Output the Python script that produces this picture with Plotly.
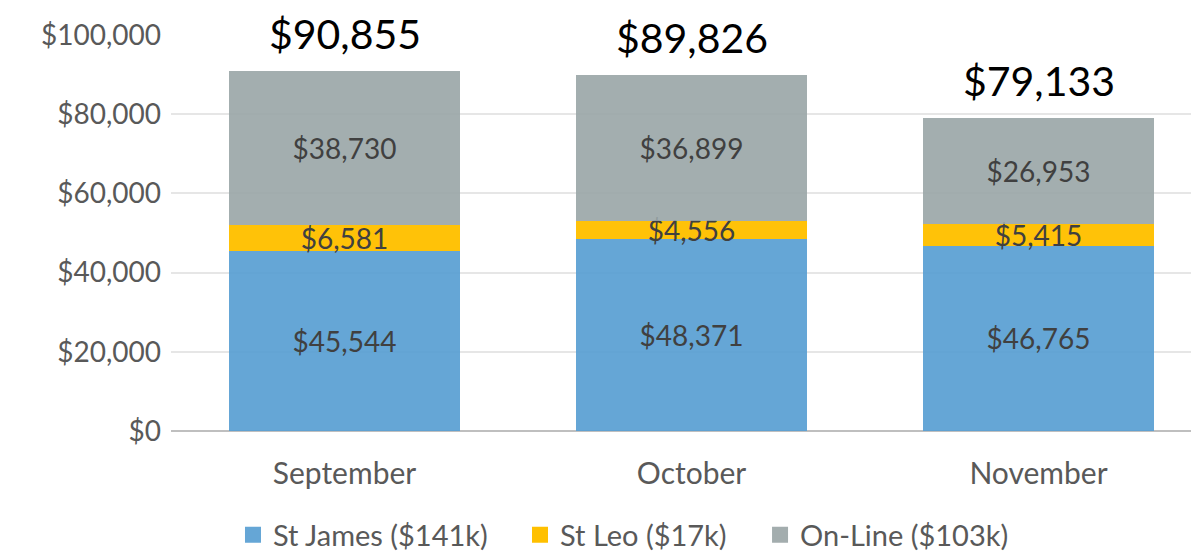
import plotly.graph_objects as go

months = ["September", "October", "November"]
st_james = [45544, 48371, 46765]
st_leo = [6581, 4556, 5415]
online = [38730, 36899, 26953]
totals = [90855, 89826, 79133]
series_names = ["St James ($141k)", "St Leo ($17k)", "On-Line ($103k)"]
tick_vals = [0, 20000, 40000, 60000, 80000, 100000]
tick_text = ["$0", "$20,000", "$40,000", "$60,000", "$80,000", "$100,000"]

colors = ["rgba(88,158,211,0.92)", "rgba(255,192,0,0.97)", "rgba(153,165,166,0.9)"]
legend_colors = ["#65A6D6", "#FFC000", "#A3ADAE"]
legend_ids = ["legend", "legend2", "legend3"]
legend_x = [0.0603, 0.3395, 0.573]
FONT = "Lato"

fig = go.Figure()
for name, vals, col in zip(series_names, [st_james, st_leo, online], colors):
    fig.add_trace(go.Bar(
        x=months, y=vals, name=name, showlegend=False,
        marker=dict(color=col, line=dict(width=0)),
        text=[f"${v:,}" for v in vals],
        textposition="inside", insidetextanchor="middle",
        constraintext="none",
        textfont=dict(family=FONT, size=28, color="#404040"),
    ))

# legend entries (square swatches like the original)
for name, col, lid in zip(series_names, legend_colors, legend_ids):
    fig.add_trace(go.Scatter(
        x=[None], y=[None], mode="markers", name=name, legend=lid,
        marker=dict(symbol="square", size=16, color=col),
        hoverinfo="skip",
    ))

for m, t in zip(months, totals):
    fig.add_annotation(x=m, y=t, text=f"${t:,}", showarrow=False,
                       yanchor="bottom", yshift=11,
                       font=dict(family=FONT, size=41, color="#000000"))

legend_common = dict(orientation="h", xanchor="left", y=-0.2626, yanchor="middle",
                     font=dict(family=FONT, size=29, color="#595959"),
                     itemsizing="trace", bgcolor="rgba(0,0,0,0)")

# page body has an 8px default margin, so the figure is sized/positioned to compensate
fig.update_layout(
    barmode="stack", bargap=0.334,
    width=1191, height=545,
    margin=dict(l=163, r=0, t=27, b=122, autoexpand=False),
    plot_bgcolor="white", paper_bgcolor="white",
    font=dict(family=FONT, color="#595959"),
    legend=dict(x=legend_x[0], **legend_common),
    legend2=dict(x=legend_x[1], **legend_common),
    legend3=dict(x=legend_x[2], **legend_common),
    xaxis=dict(range=[-0.5, 2.4625], automargin=False,
               tickfont=dict(family=FONT, size=30, color="#595959"),
               showline=False, ticks="", ticklabelstandoff=22),
    yaxis=dict(range=[0, 100000], tickvals=tick_vals, ticktext=tick_text, automargin=False,
               tickfont=dict(family=FONT, size=28, color="#595959"),
               gridcolor="#E6E6E6", gridwidth=1.5,
               zeroline=True, zerolinecolor="#BFBFBF", zerolinewidth=2,
               ticks="", ticklabelstandoff=9),
)

fig.write_html("out.html")
